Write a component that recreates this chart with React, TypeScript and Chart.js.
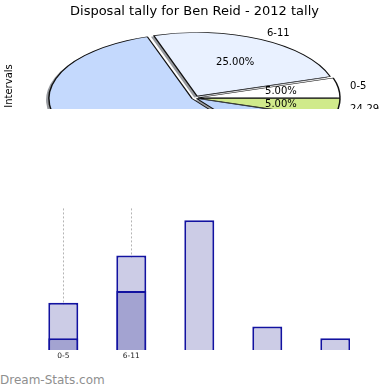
import React, { useEffect, useRef } from "react";
import { Chart, registerables } from "chart.js";

Chart.register(...registerables);

const TITLE = "Disposal tally for Ben Reid - 2012 tally";
const PIE_AXIS_LABEL = "Intervals";
const WATERMARK = "Dream-Stats.com";

// Pie data (counter-clockwise from east, as in the picture)
const intervals = ["0-5", "6-11", "12-17", "18-23", "24-29"];
const piePercent = [5, 25, 55, 10, 5];
const pieColors = ["#ffffff", "#e9f1ff", "#c4d9fd", "#bdd5fd", "#d0ea8b"];
const pieExplode = [12, 18, 13, 8, 12];

// Bar data
const barLabels = ["0-5", "6-11", "12-17", "18-23", "24-29"];
const barTotals = [4, 8, 11, 2, 1];
const barPlayer: (number | null)[] = [1, 5, null, null, null];
const shownTicks = 2;

const FONT = '"DejaVu Sans", sans-serif';
const K = 0.455; // vertical squash of the pie
const R = 140;

const pieDecor = {
  id: "pieDecor",
  beforeDatasetsDraw(chart: any) {
    const ctx = chart.ctx as CanvasRenderingContext2D;
    const meta = chart.getDatasetMeta(0);
    const first = meta.data[0];
    const cx = first.x;
    const cy = first.y;
    ctx.save();
    ctx.translate(cx, cy);
    ctx.scale(1, K);
    ctx.translate(-cx, -cy);
    ctx.fillStyle = "rgba(50,55,65,0.5)";
    meta.data.forEach((arc: any) => {
      const o = (arc.options.offset || 0) / 4;
      const circ = arc.endAngle - arc.startAngle;
      const fix = 1 - Math.sin(Math.min(Math.PI, circ));
      const mid = (arc.startAngle + arc.endAngle) / 2;
      const x = cx + Math.cos(mid) * o - 2.8;
      const y = cy + Math.sin(mid) * o + 2.8;
      ctx.beginPath();
      ctx.moveTo(x, y);
      ctx.arc(x, y, arc.outerRadius + o * fix, arc.startAngle, arc.endAngle);
      ctx.closePath();
      ctx.fill();
    });
  },
  afterDatasetsDraw(chart: any) {
    const ctx = chart.ctx as CanvasRenderingContext2D;
    ctx.restore();
    const meta = chart.getDatasetMeta(0);
    const first = meta.data[0];
    const cx = first.x;
    const cy = first.y;
    const labels = chart.data.labels as string[];
    const values = chart.data.datasets[0].data as number[];
    const total = values.reduce((a, b) => a + b, 0);
    ctx.save();
    ctx.fillStyle = "#000";
    ctx.font = `10px ${FONT}`;
    ctx.textBaseline = "middle";
    meta.data.forEach((arc: any, i: number) => {
      const o = (arc.options.offset || 0) / 4;
      const mid = (arc.startAngle + arc.endAngle) / 2;
      const c = Math.cos(mid);
      const s = Math.sin(mid);
      const lr = o + 1.1 * R;
      ctx.textAlign = c >= 0 ? "left" : "right";
      ctx.fillText(labels[i], cx + c * lr, cy + K * s * lr);
      const pr = o + 0.6 * R;
      ctx.textAlign = "center";
      ctx.fillText(((values[i] / total) * 100).toFixed(2) + "%", cx + c * pr, cy + K * s * pr);
    });
    // title
    ctx.font = `13px ${FONT}`;
    ctx.textAlign = "center";
    ctx.textBaseline = "alphabetic";
    ctx.fillText(TITLE, 194.5, 15);
    // axis label
    ctx.font = `10px ${FONT}`;
    ctx.translate(9, 86);
    ctx.rotate(-Math.PI / 2);
    ctx.textAlign = "center";
    ctx.textBaseline = "middle";
    ctx.fillText(PIE_AXIS_LABEL, 0, 0);
    ctx.restore();
  },
};

export default function App() {
  const pieRef = useRef<HTMLCanvasElement>(null);
  const barRef = useRef<HTMLCanvasElement>(null);

  useEffect(() => {
    const order = [4, 3, 2, 1, 0];
    const pie = new Chart(pieRef.current!, {
      type: "pie",
      data: {
        labels: order.map((i) => intervals[i]),
        datasets: [
          {
            data: order.map((i) => piePercent[i]),
            backgroundColor: order.map((i) => pieColors[i]),
            offset: order.map((i) => pieExplode[i]),
            borderColor: "#111",
            borderWidth: 1.5,
            radius: R,
            rotation: 90,
            clip: false,
          } as any,
        ],
      },
      options: {
        animation: false,
        responsive: false,
        events: [],
        layout: { padding: 0 },
        plugins: {
          legend: { display: false },
          tooltip: { enabled: false },
          title: { display: false },
        },
      },
      plugins: [pieDecor],
    });

    const bar = new Chart(barRef.current!, {
      type: "bar",
      data: {
        labels: barLabels,
        datasets: [
          {
            data: barPlayer,
            backgroundColor: "#a3a3d1",
            borderColor: "#1212a0",
            borderWidth: 2,
            barPercentage: 30 / 68,
            categoryPercentage: 1,
            grouped: false,
          } as any,
          {
            data: barTotals,
            backgroundColor: "#ccccE6",
            borderColor: "#1212a0",
            borderWidth: 2,
            barPercentage: 30 / 68,
            categoryPercentage: 1,
            grouped: false,
          } as any,
        ],
      },
      options: {
        animation: false,
        responsive: false,
        events: [],
        layout: { padding: { left: 29.3, right: 0.7, top: 8.4, bottom: 0 } },
        scales: {
          x: {
            z: 1,
            offset: true,
            grid: {
              offset: false,
              drawTicks: false,
              lineWidth: 1,
              color: (c: any) => (c.index < shownTicks ? "rgba(130,130,130,0.6)" : "rgba(0,0,0,0)"),
            },
            border: { display: false, dash: [2, 2] },
            ticks: {
              padding: 2,
              color: "#222",
              font: { family: FONT, size: 7.5 },
              callback: (_v: any, i: number) => (i < shownTicks ? barLabels[i] : ""),
            },
            afterFit: (s: any) => {
              s.height = 20;
            },
          } as any,
          y: { display: false, min: 0, max: 12 },
        },
        plugins: {
          legend: { display: false },
          tooltip: { enabled: false },
        },
      },
    });

    return () => {
      pie.destroy();
      bar.destroy();
    };
  }, []);

  return (
    <div style={{ position: "absolute", left: 0, top: 0, width: 390, height: 390, background: "#fff", overflow: "hidden" }}>
      <div style={{ position: "absolute", left: 0, top: 0, width: 390, height: 109, overflow: "hidden" }}>
        <canvas ref={pieRef} width={390} height={196} style={{ display: "block", width: 390, height: 196 }} />
      </div>
      <div style={{ position: "absolute", left: 0, top: 200, width: 350, height: 170, overflow: "hidden" }}>
        <canvas ref={barRef} width={370} height={170} style={{ display: "block", width: 370, height: 170 }} />
      </div>
      <div
        style={{
          position: "absolute",
          left: 0,
          top: 373,
          fontFamily: FONT,
          fontSize: 12,
          lineHeight: "14px",
          color: "#8f8f8f",
          whiteSpace: "nowrap",
        }}
      >
        {WATERMARK}
      </div>
    </div>
  );
}
